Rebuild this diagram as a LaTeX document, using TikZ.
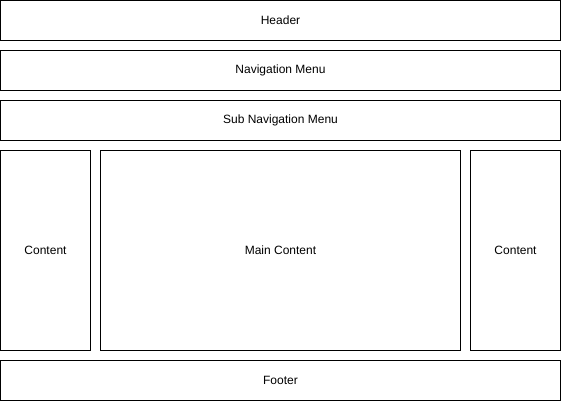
\documentclass[tikz,border=0pt]{standalone}
\usepackage{fontspec}
\setmainfont{Liberation Sans}
\tikzset{
  panel/.style={draw,line width=1pt,inner sep=0pt,outer sep=0pt,anchor=north west,font=\fontsize{12}{14}\selectfont},
}
\begin{document}
\begin{tikzpicture}[x=1pt,y=-1pt]
        \useasboundingbox (0,0) rectangle (561,401);
        \node[panel,minimum width=560pt,minimum height=40pt] (header) at (0.5,0.5) {Header};
        \node[panel,minimum width=560pt,minimum height=40pt] (nav) at (0.5,50.5) {Navigation Menu};
        \node[panel,minimum width=560pt,minimum height=40pt] (subnav) at (0.5,100.5) {Sub Navigation Menu};
        \node[panel,minimum width=90pt,minimum height=200pt] (left) at (0.5,150.5) {Content};
        \node[panel,minimum width=360pt,minimum height=200pt] (main) at (100.5,150.5) {Main Content};
        \node[panel,minimum width=90pt,minimum height=200pt] (right) at (470.5,150.5) {Content};
        \node[panel,minimum width=560pt,minimum height=40pt] (footer) at (0.5,360.5) {Footer};
      \end{tikzpicture}
\end{document}
